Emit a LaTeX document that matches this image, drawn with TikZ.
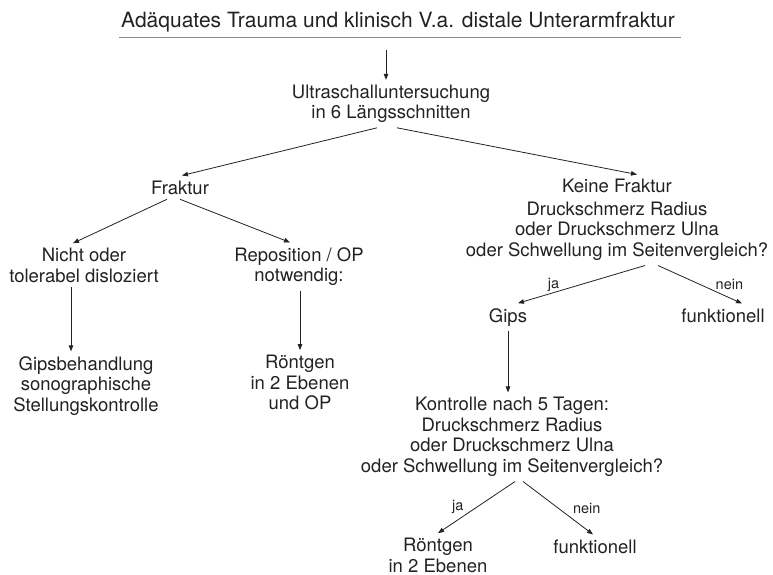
\documentclass[tikz,border=0pt]{standalone}
\usepackage{fontspec}
\setmainfont{TeX Gyre Heros}
\usetikzlibrary{arrows.meta}
\definecolor{txt}{HTML}{222222}
\definecolor{strich}{HTML}{8A8A8A}

\begin{document}
\begin{tikzpicture}[x=1pt,y=-1pt,
    every node/.style={font=\fontsize{18.5}{20.5}\selectfont,text=txt,inner sep=0pt,outer sep=5pt},
    block/.style={align=center},
    pfeil/.style={draw=txt,line width=0.8pt,-{Triangle[length=6pt,width=4.5pt]}},
    antwort/.style={font=\fontsize{14.5}{16}\selectfont,outer sep=0pt}]
        \useasboundingbox (0,0) rectangle (773,575);
        \node[anchor=base,font=\fontsize{21}{24}\selectfont] (titel) at (398,27.7) {Adäquates Trauma und klinisch V.a. distale Unterarmfraktur};
        \node[block] (us) at (391,103.8) {Ultraschalluntersuchung\\in 6 Längsschnitten};
        \node[anchor=base] (fx) at (180,194) {Fraktur};
        \node[block] (nd) at (84,265.3) {Nicht oder\\tolerabel disloziert};
        \node[block] (rep) at (299,266.6) {Reposition / OP\\notwendig:};
        \node[block] (gb) at (86,385.8) {Gipsbehandlung\\sonographische\\Stellungskontrolle};
        \node[block] (rx1) at (300,382.5) {Röntgen\\in 2 Ebenen\\und OP};
        \node[block] (kf) at (617,220) {Keine Fraktur\\[2pt]Druckschmerz Radius\\oder Druckschmerz Ulna\\oder Schwellung im Seitenvergleich?};
        \node[anchor=base] (gips) at (508,322) {Gips};
        \node[anchor=base] (fkt1) at (723,322) {funktionell};
        \node[block] (ktr) at (512,437) {Kontrolle nach 5 Tagen:\\Druckschmerz Radius\\oder Druckschmerz Ulna\\oder Schwellung im Seitenvergleich?};
        \node[block] (rx2) at (438,555.3) {Röntgen\\in 2 Ebenen};
        \node[anchor=base] (fkt2) at (595,553) {funktionell};
        % Unterstreichung
        \draw[strich,line width=1.5pt] ([xshift=3pt]titel.south west) -- ([xshift=1pt]titel.south east);
        \draw[pfeil] ([xshift=-12pt,yshift=-13pt]titel.south) -- ([xshift=-5pt]us.north);
        \draw[pfeil] ([xshift=-14pt]us.south) -- ([xshift=2pt]fx.north);
        \draw[pfeil] ([xshift=6pt]us.south) -- ([xshift=20pt]kf.north);
        \draw[pfeil] ([xshift=-13pt]fx.south) -- ([xshift=-11pt]nd.north);
        \draw[pfeil] (fx.south) -- ([xshift=-9pt]rep.north);
        \draw[pfeil] ([xshift=-13pt]nd.south) -- ([xshift=-15pt]gb.north);
        \draw[pfeil] ([xshift=1pt]rep.south) -- (rx1.north);
        \draw[pfeil] ([xshift=28pt]kf.south) -- node[antwort,pos=0.72,above=1pt] {ja} ([xshift=10pt]gips.north);
        \draw[pfeil] ([xshift=41pt]kf.south) -- node[antwort,pos=0.85,above=8pt] {nein} ([xshift=19pt]fkt1.north);
        \draw[pfeil] (gips.south) -- ([xshift=-4pt]ktr.north);
        \draw[pfeil] ([xshift=3pt]ktr.south) -- node[antwort,pos=0.5,left=13pt] {ja} (rx2.north);
        \draw[pfeil] ([xshift=11pt]ktr.south) -- node[antwort,pos=0.5,right=15pt] {nein} ([xshift=-2pt]fkt2.north);
\end{tikzpicture}
\end{document}
